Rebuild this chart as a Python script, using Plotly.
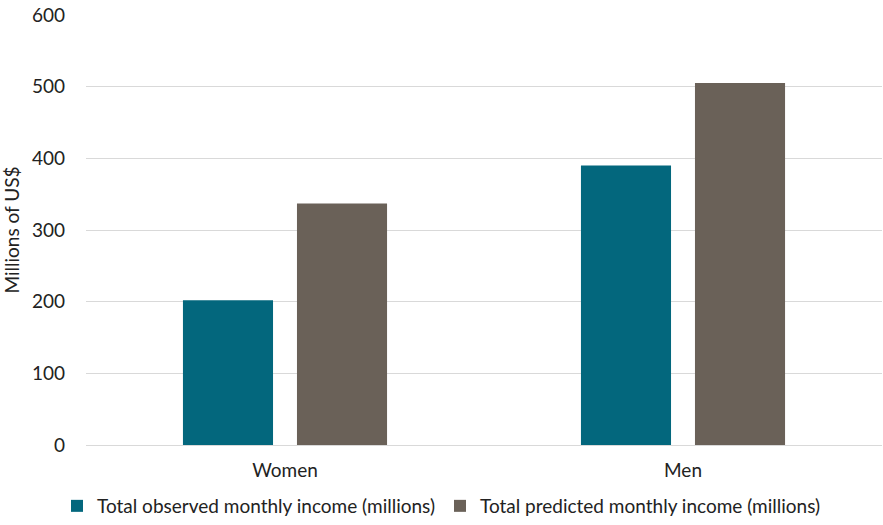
import plotly.graph_objects as go

# Monthly income totals by sex, in millions of US$
categories = ["Women", "Men"]
observed_income = [202, 390]
predicted_income = [337, 505]
series_names = [
    "Total observed monthly income (millions)",
    "Total predicted monthly income (millions)",
]
y_ticks = [0, 100, 200, 300, 400, 500, 600]

TEAL = "#03677D"
TAUPE = "#6A6158"
FONT = "Lato, 'Open Sans', sans-serif"

fig = go.Figure()
fig.add_trace(go.Bar(
    x=categories, y=observed_income, name=series_names[0],
    marker=dict(color=TEAL, line=dict(width=0)),
))
fig.add_trace(go.Bar(
    x=categories, y=predicted_income, name=series_names[1],
    marker=dict(color=TAUPE, line=dict(width=0)),
))

fig.update_layout(
    width=883, height=525,
    margin=dict(l=86, r=1, t=15, b=80, autoexpand=False),
    paper_bgcolor="rgba(0,0,0,0)", plot_bgcolor="white",
    barmode="group", bargap=0.427, bargroupgap=0.21,
    font=dict(family=FONT, size=19, color="#222222"),
    showlegend=True,
    legend=dict(
        orientation="h", xref="container", yref="container",
        x=0.5, xanchor="center", y=-0.027, yanchor="bottom",
        bgcolor="rgba(0,0,0,0)",
        font=dict(size=19, color="#222222"),
        tracegroupgap=0,
    ),
    xaxis=dict(
        showgrid=False, showline=False, zeroline=False,
        ticks="", ticklabelstandoff=12, tickfont=dict(size=19),
    ),
    yaxis=dict(
        range=[0, 600], tickvals=y_ticks,
        showgrid=True, gridcolor="#D9D9D9", gridwidth=1.2,
        zeroline=True, zerolinecolor="#D9D9D9", zerolinewidth=1.2,
        showline=False, ticks="", ticklabelstandoff=20,
        tickfont=dict(size=19),
        title=dict(text="Millions of US$", font=dict(size=19), standoff=10),
    ),
)

fig.write_html("out.html")
